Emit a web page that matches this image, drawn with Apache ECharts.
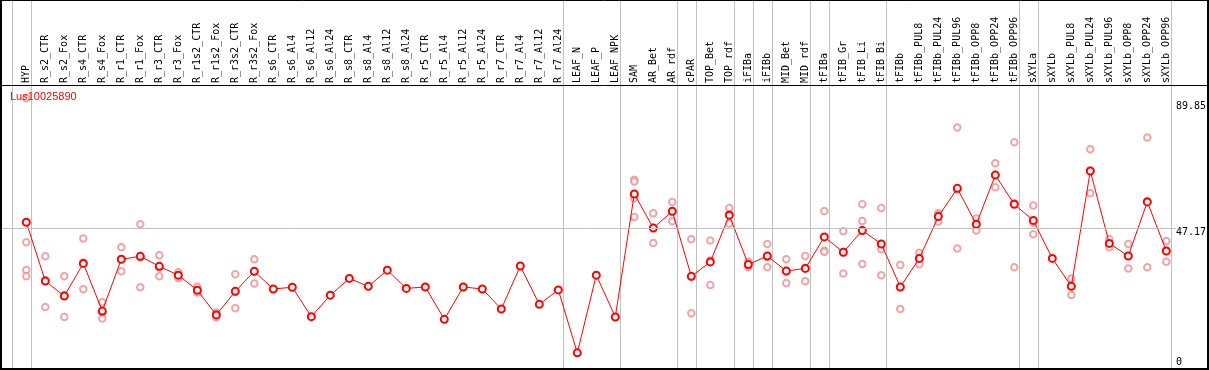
<!DOCTYPE html>
<html><head><meta charset="utf-8">
<script src="https://cdn.jsdelivr.net/npm/echarts@6/dist/echarts.min.js"></script>
<style>html,body{margin:0;padding:0;background:#fff}#c{width:1209px;height:370px}</style>
</head><body><div id="c"></div>
<script>
const title = 'Lus10025890';
const categories = ['HYP','R_s2_CTR','R_s2_Fox','R_s4_CTR','R_s4_Fox','R_r1_CTR','R_r1_Fox','R_r3_CTR','R_r3_Fox',
  'R_r1s2_CTR','R_r1s2_Fox','R_r3s2_CTR','R_r3s2_Fox','R_s6_CTR','R_s6_Al4','R_s6_Al12','R_s6_Al24',
  'R_s8_CTR','R_s8_Al4','R_s8_Al12','R_s8_Al24','R_r5_CTR','R_r5_Al4','R_r5_Al12','R_r5_Al24',
  'R_r7_CTR','R_r7_Al4','R_r7_Al12','R_r7_Al24','LEAF_N','LEAF_P','LEAF_NPK','SAM','AR_Bet','AR_rdf',
  'cPAR','TOP_Bet','TOP_rdf','iFIBa','iFIBb','MID_Bet','MID_rdf','tFIBa','tFIB_Gr','tFIB_Li','tFIB_Bi',
  'tFIBb','tFIBb_PUL8','tFIBb_PUL24','tFIBb_PUL96','tFIBb_OPP8','tFIBb_OPP24','tFIBb_OPP96',
  'sXYLa','sXYLb','sXYLb_PUL8','sXYLb_PUL24','sXYLb_PUL96','sXYLb_OPP8','sXYLb_OPP24','sXYLb_OPP96'];
const means = [49.2,29.2,24.1,35.2,19.0,36.6,37.6,34.2,31.2,
  26.1,17.7,25.7,32.5,26.5,27.1,17.1,24.4,
  30.1,27.4,32.9,26.7,27.2,16.2,27.2,26.5,
  19.7,34.3,21.3,26.2,4.8,31.2,17.0,58.8,47.2,52.9,
  30.8,35.7,51.6,34.8,37.7,32.6,33.5,44.2,39.0,46.4,41.8,
  27.2,36.9,51.1,60.7,48.5,65.2,55.3,
  49.8,36.9,27.4,66.6,42.0,37.7,56.1,39.4];
const replicates = [
  [91.3,42.4,33.0,30.8],[37.6,29.6,20.4],[30.8,24.5,17.0],[43.7,35.5,26.4],[22.0,18.5,16.5],
  [40.7,36.6,32.5],[48.5,37.2,27.1],[38.0,33.8,30.8],[32.2,31.2,30.2],
  [27.3,25.7,25.3],[18.5,17.8,16.8],[31.5,25.6,20.0],[36.6,32.5,28.4],[],[],[],[],
  [],[],[],[],[],[],[],[],
  [],[],[],[],[],[],[],[63.6,63.0,57.3,51.0],[52.2,47.3,42.1],[56.1,53.1,49.5],
  [43.4,30.7,18.3],[43.0,36.2,27.9],[54.0,52.0,48.8],[35.8,34.7,33.9],[41.8,37.4,33.9],[36.6,32.7,28.5],[37.7,33.7,29.1],
  [53.0,39.5,39.2],[46.1,39.1,31.8],[55.3,49.6,35.0],[54.0,40.0,31.2],
  [34.7,27.2,19.7],[38.8,36.9,34.9],[52.2,51.7,49.4],[81.4,60.4,40.3],[50.5,48.6,46.4],[69.2,65.3,61.1],[76.4,55.6,33.9],
  [54.9,49.0,45.1],[],[30.1,27.6,24.5],[74.0,66.8,59.0],[43.5,41.8,40.7],[41.8,37.8,33.5],[78.0,56.4,33.9],[42.8,39.6,35.8]];
const yTickValues = [0, 47.17, 89.85];
const refLine = 47.17;
const yMax = 95.82;
// index of last category in each group (separator drawn after it); -1 = before first
const groupEnds = [-1, 0, 28, 31, 34, 35, 37, 38, 39, 41, 42, 45, 52, 53, 60];

const repPoints = [];
replicates.forEach((arr, i) => arr.forEach(v => repPoints.push([i, v])));

const SEP_SHIFT = 0.23;
const chart = echarts.init(document.getElementById('c'), null, {renderer: 'canvas'});
chart.setOption({
  animation: false,
  backgroundColor: '#fff',
  title: {text: title, left: 10, top: 91, padding: 0,
    textStyle: {color: '#ff0000', fontSize: 11, fontWeight: 'normal', fontFamily: 'Liberation Sans'}},
  grid: [
    {left: 16.8, top: 85, width: 1159, height: 282},
    {left: 1, top: 85, width: 1177, height: 282}
  ],
  xAxis: [
    {type: 'category', gridIndex: 0, data: categories, position: 'top', boundaryGap: true,
      axisLine: {show: false}, axisTick: {show: false}, splitLine: {show: false},
      axisLabel: {interval: 0, rotate: 90, margin: 2, fontFamily: 'DejaVu Sans Mono', fontSize: 10, color: '#000'}},
    {type: 'value', gridIndex: 1, min: 0, max: 1, show: false}
  ],
  yAxis: [
    {type: 'value', gridIndex: 0, min: 0, max: yMax, show: false},
    {type: 'value', gridIndex: 1, min: 0, max: yMax, position: 'right',
      axisLine: {show: false}, axisTick: {show: false}, splitLine: {show: false},
      axisLabel: {customValues: yTickValues, margin: 0, fontFamily: 'DejaVu Sans Mono', fontSize: 10, color: '#000',
        formatter: v => v === 0 ? '{z|0}' : '{n|' + v + '}',
        rich: {n: {padding: [8, 0, 0, 0], fontFamily: 'DejaVu Sans Mono', fontSize: 10},
               z: {padding: [0, 0, 10, 0], fontFamily: 'DejaVu Sans Mono', fontSize: 10}}}}
  ],
  series: [
    {type: 'line', xAxisIndex: 1, yAxisIndex: 1, data: [[0.5, refLine]], symbol: 'none', silent: true,
      lineStyle: {width: 0},
      markLine: {silent: true, symbol: 'none', label: {show: false}, animation: false,
        lineStyle: {color: '#c0c0c0', width: 1, type: 'solid'}, data: [{yAxis: refLine}]}},
    {type: 'scatter', xAxisIndex: 0, yAxisIndex: 0, data: repPoints, symbol: 'emptyCircle', symbolSize: 6.5, z: 3,
      itemStyle: {color: '#e99090', borderColor: '#e99090', borderWidth: 1}},
    {type: 'line', xAxisIndex: 0, yAxisIndex: 0, data: means, symbol: 'emptyCircle', symbolSize: 7, z: 4,
      lineStyle: {color: '#ff0000', width: 1},
      itemStyle: {color: '#ff0000', borderColor: '#ff0000', borderWidth: 1.5}}
  ]
});
// group separators and frame, placed through the category axis scale
const x0 = chart.convertToPixel({xAxisIndex: 0}, 0);
const x1 = chart.convertToPixel({xAxisIndex: 0}, 1);
const band = x1 - x0;
const seps = groupEnds.map(i => {
  const x = Math.round(x0 + (i + SEP_SHIFT) * band) + 0.5;
  return {type: 'line', z: 2, silent: true, shape: {x1: x, y1: 0, x2: x, y2: 370},
    style: {stroke: '#c0c0c0', lineWidth: 1}};
});
const frame = [
  {type: 'line', z: 100, silent: true, shape: {x1: 1, y1: 0, x2: 1, y2: 370}, style: {stroke: '#000', lineWidth: 2}},
  {type: 'line', z: 100, silent: true, shape: {x1: 1208, y1: 0, x2: 1208, y2: 370}, style: {stroke: '#000', lineWidth: 2}},
  {type: 'line', z: 100, silent: true, shape: {x1: 0, y1: 0.5, x2: 1209, y2: 0.5}, style: {stroke: '#000', lineWidth: 1}},
  {type: 'line', z: 100, silent: true, shape: {x1: 0, y1: 369, x2: 1209, y2: 369}, style: {stroke: '#000', lineWidth: 2}},
  {type: 'line', z: 100, silent: true, shape: {x1: 0, y1: 85.5, x2: 1209, y2: 85.5}, style: {stroke: '#000', lineWidth: 1}}
];
chart.setOption({graphic: seps.concat(frame)});
</script></body></html>
